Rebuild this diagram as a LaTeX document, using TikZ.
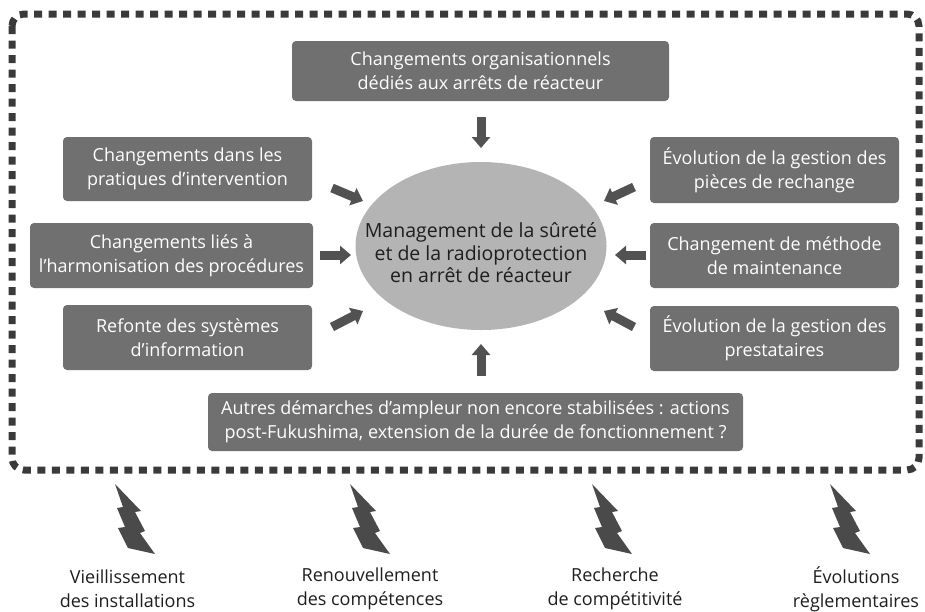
\documentclass[tikz,border=0pt]{standalone}
\usepackage{fontspec}
\setmainfont{Open Sans}
\usetikzlibrary{arrows.meta,shapes.geometric}
\definecolor{boxgray}{HTML}{707070}
\definecolor{arrowgray}{HTML}{525252}
\definecolor{ellgray}{HTML}{B4B4B4}
\definecolor{bordergray}{HTML}{3A3A3A}
\definecolor{boltgray}{HTML}{4A4A4A}
\definecolor{textdark}{HTML}{1E1E1E}
\tikzset{
  x=1pt, y=-1pt,
  txt/.style={font=\fontsize{18}{24}\selectfont, align=center},
  gbox/.style={txt, fill=boxgray, text=white, rounded corners=4pt,
    inner sep=0pt, minimum width=#1},
  core/.style={ellipse, fill=ellgray, inner sep=0pt,
    minimum width=251pt, minimum height=168pt},
  coretext/.style={font=\fontsize{19.5}{22.5}\selectfont, align=center,
    text=textdark},
  push/.style={draw=arrowgray, line width=9pt,
    -{Triangle[length=11pt,width=18pt]}},
  cause/.style={txt, text=textdark},
  bolt/.pic={
    \fill[boltgray] (0,0) -- (26,27) -- (20,28) -- (30,47) -- (25,49)
      -- (40,70) -- (13,64) -- (3,44) -- (10,43) -- (2,24) -- (8,23) -- cycle;
  }
}
\begin{document}
\begin{tikzpicture}
\useasboundingbox (0,0) rectangle (925,611);

% dotted frame around the management scope
\draw[bordergray, line width=7pt, dash pattern=on 8pt off 6.5pt,
  rounded corners=12pt] (12,14) rectangle (919,470);

% central topic
\node[core] (ell) at (481,246) {};
\node[coretext] (elltext) at (481,253)
  {Management de la sûreté\\et de la radioprotection\\en arrêt de réacteur};

% surrounding changes
\node[gbox=377pt, minimum height=60pt] (top) at (480.5,71)
  {Changements organisationnels\\dédiés aux arrêts de réacteur};
\node[gbox=249pt, minimum height=64pt] (l1) at (187.5,169)
  {Changements dans les\\pratiques d’intervention};
\node[gbox=283pt, minimum height=65pt] (l2) at (171.5,255.5)
  {Changements liés à\\l’harmonisation des procédures};
\node[gbox=249pt, minimum height=65pt] (l3) at (187.5,337.5)
  {Refonte des systèmes\\d’information};
\node[gbox=249pt, minimum height=66pt] (r1) at (774.5,170)
  {Évolution de la gestion des\\pièces de rechange};
\node[gbox=249pt, minimum height=65pt] (r2) at (774.5,255.5)
  {Changement de méthode\\de maintenance};
\node[gbox=249pt, minimum height=65pt] (r3) at (774.5,338.5)
  {Évolution de la gestion des\\prestataires};
\node[gbox=535pt, minimum height=58pt] (bot) at (475.5,422)
  {Autres démarches d’ampleur non encore stabilisées : actions\\post-Fukushima, extension de la durée de fonctionnement ?};

% arrow ends around the ellipse
\coordinate (ts) at (481,117);  \coordinate (te) at (481,148);
\coordinate (bs) at (481,376);  \coordinate (be) at (481,344);
\coordinate (l2s) at (320,255); \coordinate (l2e) at (351,255);
\coordinate (r2s) at (646,255); \coordinate (r2e) at (615,255);
\coordinate (l1s) at (332,188); \coordinate (l1e) at (363,201);
\coordinate (l3s) at (332,327); \coordinate (l3e) at (363,311);
\coordinate (r1s) at (634,187); \coordinate (r1e) at (604,201);
\coordinate (r3s) at (634,327); \coordinate (r3e) at (604,311);
\foreach \a in {t,b,l1,l2,l3,r1,r2,r3}
  \draw[push] (\a s) -- (\a e);

% external drivers
\pic at (115,484) {bolt};
\pic at (350,484) {bolt};
\pic at (592,484) {bolt};
\pic at (830,484) {bolt};
\node[cause] (c1) at (127.5,589) {Vieillissement\\des installations};
\node[cause] (c2) at (370,589) {Renouvellement\\des compétences};
\node[cause] (c3) at (615,589) {Recherche\\de compétitivité};
\node[cause] (c4) at (856,589) {Évolutions\\règlementaires};
\end{tikzpicture}
\end{document}
